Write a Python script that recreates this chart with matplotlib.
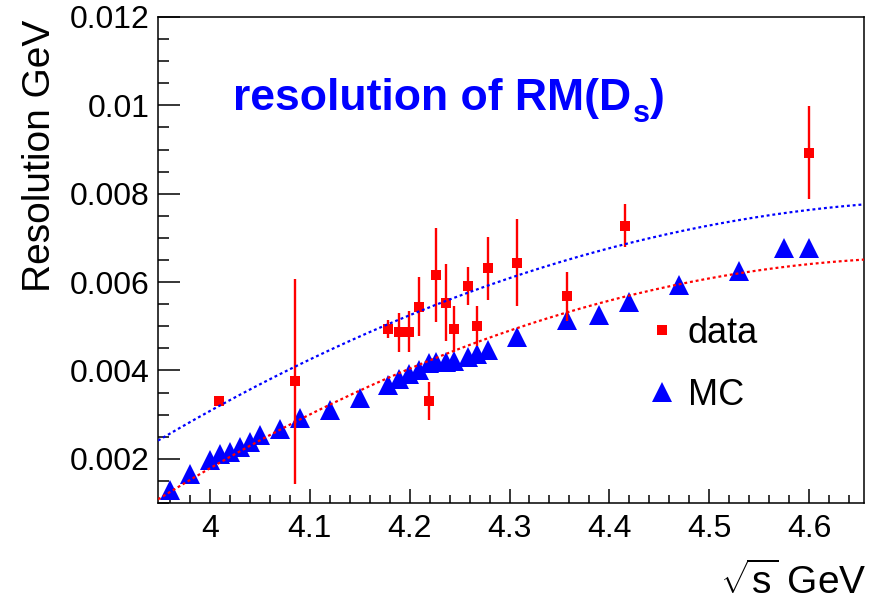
import numpy as np
import matplotlib
matplotlib.use("Agg")
import matplotlib.pyplot as plt
from matplotlib.lines import Line2D
from matplotlib.ticker import MultipleLocator, FuncFormatter
from matplotlib.transforms import offset_copy

plt.rcParams['font.family'] = ['Liberation Sans', 'DejaVu Sans']
plt.rcParams['mathtext.fontset'] = 'custom'
plt.rcParams['mathtext.rm'] = 'Liberation Sans'
plt.rcParams['mathtext.it'] = 'Liberation Sans:italic'
plt.rcParams['mathtext.bf'] = 'Liberation Sans:bold'

# Measured resolution (data) with uncertainties
data_ecm = [4.009, 4.085, 4.178, 4.189, 4.199, 4.209, 4.219, 4.226, 4.236,
            4.244, 4.258, 4.267, 4.278, 4.308, 4.358, 4.416, 4.600]
data_res = [0.00330, 0.00375, 0.00494, 0.00486, 0.00488, 0.00544, 0.00330,
            0.00616, 0.00553, 0.00494, 0.00592, 0.00500, 0.00631, 0.00644,
            0.00568, 0.00728, 0.00893]
data_err = [0.00008, 0.00233, 0.00021, 0.00045, 0.00047, 0.00067, 0.00043,
            0.00107, 0.00087, 0.00052, 0.00043, 0.00045, 0.00072, 0.00099,
            0.00055, 0.00048, 0.00106]

# Simulated resolution (MC)
mc_ecm = [3.96, 3.98, 4.00, 4.01, 4.02, 4.03, 4.04, 4.05, 4.07, 4.09, 4.12,
          4.15, 4.178, 4.189, 4.199, 4.209, 4.219, 4.226, 4.236, 4.244,
          4.258, 4.267, 4.278, 4.308, 4.358, 4.39, 4.42, 4.47, 4.53, 4.575,
          4.60]
mc_res = [0.00130, 0.00165, 0.00198, 0.00210, 0.00215, 0.00226, 0.00238,
          0.00254, 0.00268, 0.00293, 0.00311, 0.00337, 0.00368, 0.00380,
          0.00392, 0.00402, 0.00418, 0.00420, 0.00420, 0.00422, 0.00430,
          0.00438, 0.00446, 0.00475, 0.00515, 0.00526, 0.00556, 0.00594,
          0.00624, 0.00678, 0.00678]

# Second-order polynomial fits, p0 + p1*(E-4) + p2*(E-4)^2
fit_origin = 4.0
data_fit = [0.003083, 0.012461, -0.008127]
mc_fit = [0.001786, 0.013060, -0.008930]

x_range = (3.948, 4.655)
y_range = (0.001, 0.012)
x_ticks = [4.0, 4.1, 4.2, 4.3, 4.4, 4.5, 4.6]
y_ticks = [0.002, 0.004, 0.006, 0.008, 0.010, 0.012]

RED = '#ff0000'
BLUE = '#0000ff'

fig = plt.figure(figsize=(8.77, 6.04), dpi=100)
ax = fig.add_axes([158 / 877, 1 - 503 / 604, (864 - 158) / 877, (503 - 17) / 604])

ax.plot(mc_ecm, mc_res, linestyle='none', marker='^', ms=14, color=BLUE,
        mew=0, zorder=3)
ax.errorbar(data_ecm, data_res, yerr=data_err, fmt='s', ms=7.2, color=RED,
            mew=0, ecolor=RED, elinewidth=1.7, capsize=2.2, capthick=1.7,
            zorder=4)

xs = np.linspace(x_range[0], x_range[1], 400)
u = xs - fit_origin
ax.plot(xs, data_fit[0] + data_fit[1] * u + data_fit[2] * u ** 2,
        color=BLUE, lw=1.6, linestyle=(0, (1.3, 1.3)), zorder=5)
ax.plot(xs, mc_fit[0] + mc_fit[1] * u + mc_fit[2] * u ** 2,
        color=RED, lw=1.6, linestyle=(0, (1.3, 1.3)), zorder=5)

ax.set_xlim(*x_range)
ax.set_ylim(*y_range)
ax.set_xticks(x_ticks)
ax.set_yticks(y_ticks)
ax.xaxis.set_minor_locator(MultipleLocator(0.02))
ax.yaxis.set_minor_locator(MultipleLocator(0.0005))
fmt = FuncFormatter(lambda v, p: '%g' % round(v, 6))
ax.xaxis.set_major_formatter(fmt)
ax.yaxis.set_major_formatter(fmt)

for s in ax.spines.values():
    s.set_linewidth(1.1)
ax.tick_params(axis='both', which='both', direction='in', top=False,
               right=False, width=1.1, labelsize=23)
ax.tick_params(axis='x', which='major', length=10, pad=8)
ax.tick_params(axis='x', which='minor', length=5.5)
ax.tick_params(axis='y', which='major', length=15.5, pad=6)
ax.tick_params(axis='y', which='minor', length=8)

# Title with a lowered subscript, built piece by piece
title_kw = dict(color=BLUE, fontweight='bold', ha='left', va='baseline')
t_main = ax.text((233 - 158) / 706, (503 - 110) / 486, 'resolution of RM(D',
                 transform=ax.transAxes, fontsize=32, **title_kw)
fig.canvas.draw()
renderer = fig.canvas.get_renderer()
bb = t_main.get_window_extent(renderer)
x_end_pt = (bb.x1 - t_main.get_window_extent(renderer).x0) * 72 / fig.dpi
sub_tr = offset_copy(ax.transAxes, fig=fig, x=x_end_pt + 1, y=-9, units='points')
t_sub = ax.text((233 - 158) / 706, (503 - 110) / 486, 's', transform=sub_tr,
                fontsize=22, **title_kw)
fig.canvas.draw()
bb_s = t_sub.get_window_extent(renderer)
x_close_pt = (bb_s.x1 - bb.x0) * 72 / fig.dpi
close_tr = offset_copy(ax.transAxes, fig=fig, x=x_close_pt + 0.5, y=0, units='points')
ax.text((233 - 158) / 706, (503 - 110) / 486, ')', transform=close_tr,
        fontsize=32, **title_kw)

fig.text(40 / 877, 1 - 20 / 604, 'Resolution GeV', rotation=90,
         ha='center', va='top', fontsize=28)
fig.text(866 / 877, 1 - 594 / 604, r'$\sqrt{\mathrm{s}}$ GeV', ha='right',
         va='baseline', fontsize=28)

handles = [Line2D([], [], linestyle='none', marker='s', ms=7.2, color=RED, mew=0),
           Line2D([], [], linestyle='none', marker='^', ms=14, color=BLUE, mew=0)]
ax.legend(handles, ['data', 'MC'], loc='upper left',
          bbox_to_anchor=((648 - 158) / 706, 1 - (316 - 17) / 486),
          frameon=False, fontsize=26, handlelength=0.8, handletextpad=0.3,
          labelspacing=0.75, borderpad=0, borderaxespad=0)

fig.savefig('out.png', dpi=100)
